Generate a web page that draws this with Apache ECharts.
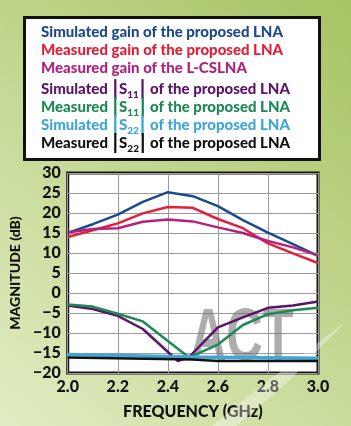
<!DOCTYPE html>
<html>
<head>
<meta charset="utf-8">
<script src="https://cdn.jsdelivr.net/npm/echarts@6/dist/echarts.min.js"></script>
<style>
  html, body { margin: 0; padding: 0; }
  #chart { width: 351px; height: 426px; }
</style>
</head>
<body>
<div id="chart"></div>
<script>
// ---- data ----
const freq = [2.0, 2.1, 2.2, 2.3, 2.4, 2.5, 2.6, 2.7, 2.8, 2.9, 3.0];
const simGain = [15.0, 17.2, 19.6, 22.8, 25.2, 24.2, 21.7, 18.2, 15.1, 12.2, 9.3];
const measGain = [14.0, 15.7, 17.4, 19.9, 21.5, 21.3, 18.5, 16.2, 12.4, 9.9, 7.5];
const lcsGain = [15.1, 16.0, 16.2, 17.8, 18.4, 17.9, 16.4, 15.0, 13.0, 11.4, 9.4];

const simS11Freq = [2.0, 2.1, 2.2, 2.3, 2.44, 2.485, 2.6, 2.7, 2.8, 2.9, 3.0];
const simS11 = [-3.1, -4.0, -5.7, -9.0, -17.0, -16.0, -8.6, -6.1, -3.7, -3.1, -2.1];
const measS11Freq = [2.0, 2.1, 2.2, 2.3, 2.485, 2.6, 2.7, 2.8, 2.9, 3.0];
const measS11 = [-2.9, -3.4, -5.2, -7.1, -16.1, -12.9, -8.0, -5.3, -4.3, -3.7];
const simS22Freq = [2.0, 2.5, 3.0];
const simS22 = [-15.4, -16.0, -16.3];
const measS22Freq = [2.0, 2.5, 2.6, 3.0];
const measS22 = [-16.1, -16.6, -17.0, -17.0];

const seriesNames = [
  'Simulated gain of the proposed LNA',
  'Measured gain of the proposed LNA',
  'Measured gain of the L-CSLNA',
  'Simulated |S11| of the proposed LNA',
  'Measured |S11| of the proposed LNA',
  'Simulated |S22| of the proposed LNA',
  'Measured |S22| of the proposed LNA'
];
const colors = ['#1d4a8a', '#e3203a', '#b2227e', '#5a1468', '#1c8a55', '#3ea6d8', '#111111'];

// ---- chart ----
const chart = echarts.init(document.getElementById('chart'));
const FONT = 'Lato';

function pairs(xs, ys) { return xs.map((x, i) => [x, ys[i]]); }

const seriesData = [
  pairs(freq, simGain),
  pairs(freq, measGain),
  pairs(freq, lcsGain),
  pairs(simS11Freq, simS11),
  pairs(measS11Freq, measS11),
  pairs(simS22Freq, simS22),
  pairs(measS22Freq, measS22)
];
const widths = [2.5, 2.5, 2.5, 2.5, 2.5, 3.5, 2.5];

// legend text with subscripts, e.g. "Simulated |S11| ..."
function legendText(name) {
  const m = name.match(/^(\w+) \|S(\d\d)\| (.*)$/);
  if (!m) return '{t|' + name + '}';
  return '{t|' + m[1] + ' }{b||}{t|S}{s|' + m[2] + '}{b||}{t| ' + m[3] + '}';
}

const legendGraphics = seriesNames.map((name, i) => ({
  type: 'text',
  left: 41,
  top: 25 + i * 18,
  z: 10,
  style: {
    text: legendText(name),
    fill: colors[i],
    font: '900 15px ' + FONT,
    rich: {
      t: { fontFamily: FONT, fontWeight: 900, fontSize: 15, color: colors[i] },
      b: { fontFamily: FONT, fontWeight: 900, fontSize: 21, color: colors[i], padding: [0, 1, 0, 1] },
      s: { fontFamily: FONT, fontWeight: 900, fontSize: 10, color: colors[i], verticalAlign: 'bottom', padding: [6, 0, 0, 0] }
    }
  }
}));

const labelStyle = { fontFamily: FONT, fontWeight: 900, fontSize: 16, color: '#111' };

chart.setOption({
  animation: false,
  backgroundColor: {
    type: 'linear', x: 1, y: 0, x2: 0, y2: 1,
    colorStops: [{ offset: 0, color: '#a7c363' }, { offset: 1, color: '#e1ecc2' }]
  },
  grid: {
    left: 60, right: 33, top: 173, bottom: 53,
    show: true, backgroundColor: '#ffffff', borderColor: '#161616', borderWidth: 3
  },
  xAxis: {
    type: 'value', min: 2.0, max: 3.0, interval: 0.2,
    name: 'FREQUENCY (GHz)', nameLocation: 'middle', nameGap: 31,
    nameTextStyle: Object.assign({}, labelStyle, { fontSize: 16 }),
    axisLine: { show: false }, axisTick: { show: false },
    axisLabel: Object.assign({ margin: 6, formatter: v => v.toFixed(1) }, labelStyle),
    splitLine: { lineStyle: { color: '#9a9a9a', width: 1 } }
  },
  yAxis: {
    type: 'value', min: -20, max: 30, interval: 5,
    name: 'MAGNITUDE (dB)', nameLocation: 'middle', nameGap: 41,
    nameTextStyle: Object.assign({}, labelStyle, { fontSize: 14 }),
    axisLine: { show: false }, axisTick: { show: false },
    axisLabel: Object.assign({ margin: 7, formatter: v => String(v).replace('-', '\u2212') }, labelStyle),
    splitLine: { lineStyle: { color: '#9a9a9a', width: 1 } }
  },
  graphic: [
    {
      type: 'rect', left: 23, top: 16, z: 5,
      shape: { width: 295, height: 142 },
      style: { fill: '#ffffff', stroke: '#111111', lineWidth: 3 }
    },
    {
      type: 'polygon', z: 1,
      shape: { points: [[212, 426], [250, 395], [345, 322], [290, 380], [236, 426]] },
      style: { fill: 'rgba(255,255,255,0.35)' }
    },
    {
      type: 'text', left: 190, top: 303, z: 1,
      scaleX: 0.68,
      style: { text: 'ACT', font: 'bold 74px "Liberation Sans"', fill: 'rgba(105,105,105,0.55)' }
    }
  ].concat(legendGraphics),
  series: seriesData.map((d, i) => ({
    name: seriesNames[i],
    type: 'line',
    data: d,
    z: 3,
    symbol: 'none',
    lineStyle: { color: colors[i], width: widths[i] }
  }))
});
</script>
</body>
</html>
